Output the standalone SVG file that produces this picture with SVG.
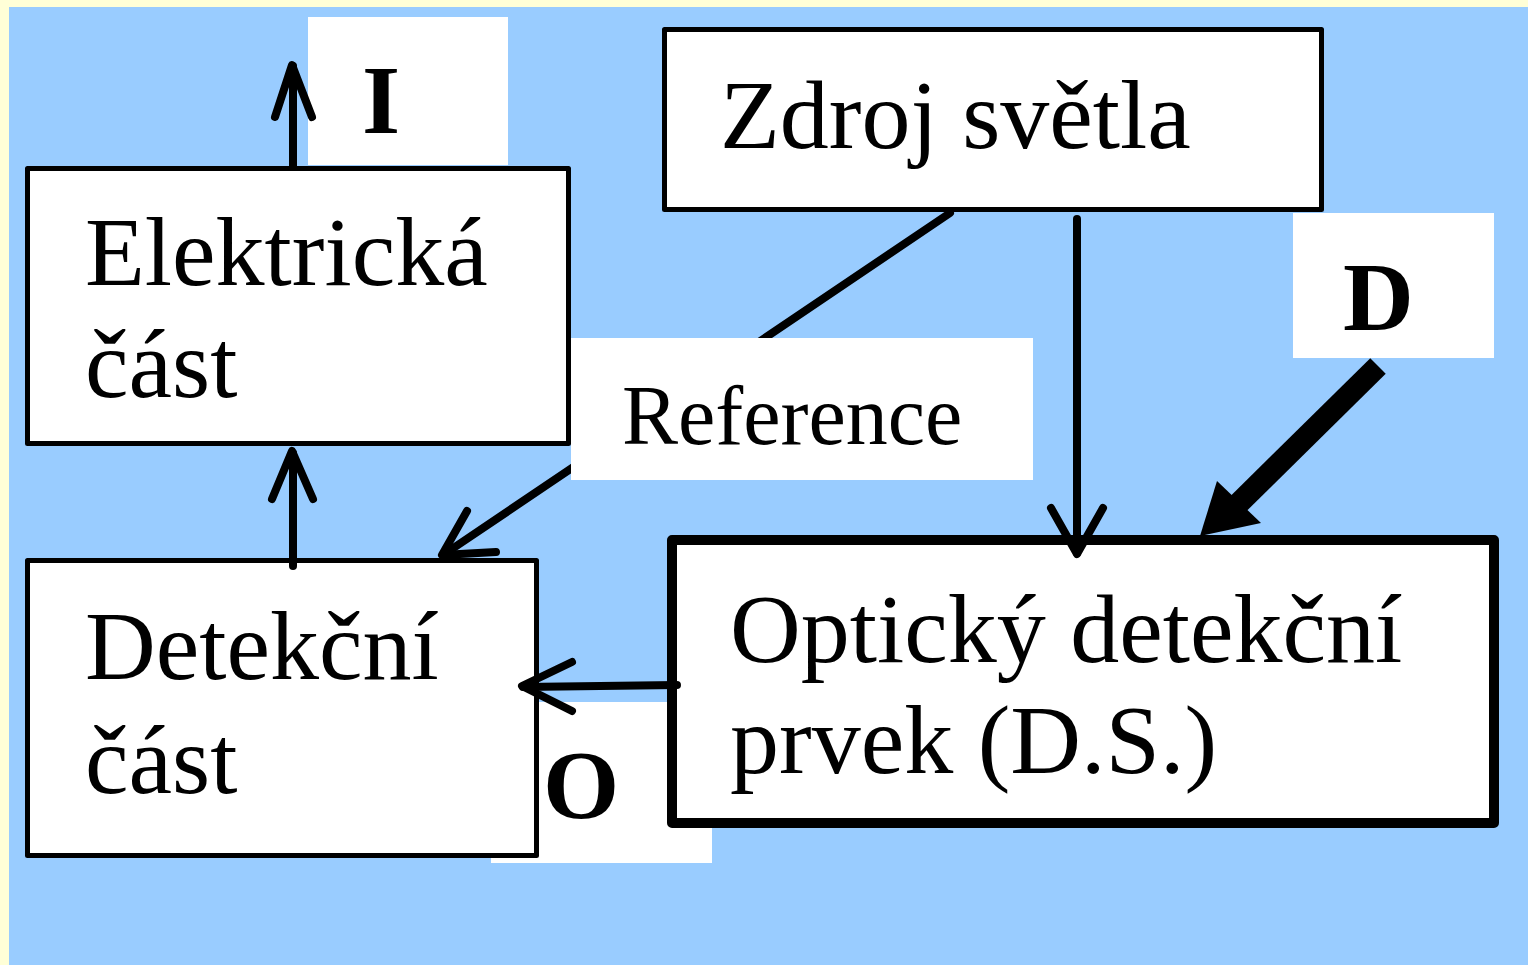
<svg xmlns="http://www.w3.org/2000/svg" width="1528" height="965" viewBox="0 0 1528 965">
  <style>
    .box { fill: #FFFFFF; stroke: #000000; stroke-width: 5; stroke-linejoin: round; }
    .box-thick { fill: #FFFFFF; stroke: #000000; stroke-width: 10; stroke-linejoin: round; }
    .pad { fill: #FFFFFF; }
    .line { fill: none; stroke: #000000; stroke-width: 8; stroke-linecap: round; stroke-linejoin: round; }
    .txt { font-family: "Liberation Serif", "Times New Roman", serif; font-size: 98px; fill: #000000; }
    .ref { font-family: "Liberation Serif", "Times New Roman", serif; font-size: 84px; fill: #000000; }
    .tag { font-family: "Liberation Serif", "Times New Roman", serif; font-size: 98px; font-weight: bold; fill: #000000; }
  </style>

  <!-- page background and panel -->
  <rect x="0" y="0" width="1528" height="965" fill="#FFFFD7"/>
  <rect x="9" y="7" width="1519" height="958" fill="#99CCFF"/>

  <!-- white label pads -->
  <g id="label-I">
    <rect class="pad" x="308" y="17" width="200" height="148"/>
    <text class="tag" x="362" y="133">I</text>
  </g>
  <g id="label-D">
    <rect class="pad" x="1293" y="213" width="201" height="145"/>
    <text class="tag" x="1343" y="330">D</text>
  </g>
  <g id="label-O">
    <rect class="pad" x="491" y="702" width="221" height="161"/>
    <text class="tag" x="543" y="818">O</text>
  </g>

  <!-- nodes -->
  <g id="node-zdroj">
    <rect class="box" x="664.5" y="29.5" width="657" height="180"/>
    <text class="txt" x="720" y="148">Zdroj světla</text>
  </g>
  <g id="node-elektricka">
    <rect class="box" x="27.5" y="168.5" width="541" height="275"/>
    <text class="txt" x="85" y="285">Elektrická</text>
    <text class="txt" x="85" y="397">část</text>
  </g>
  <g id="node-detekcni">
    <rect class="box" x="27.5" y="560.5" width="509" height="295"/>
    <text class="txt" x="85" y="679">Detekční</text>
    <text class="txt" x="85" y="793">část</text>
  </g>
  <g id="node-opticky">
    <rect class="box-thick" x="672" y="540" width="822" height="283"/>
    <text class="txt" x="730" y="662">Optický detekční</text>
    <text class="txt" x="730" y="773">prvek (D.S.)</text>
  </g>

  <!-- connectors -->
  <g id="connectors">
    <!-- Elektrická část -> output I -->
    <path class="line" d="M293,166 L293,66"/>
    <polyline class="line" points="275,117 292,65 312,117"/>
    <!-- Detekční část -> Elektrická část -->
    <path class="line" d="M293,566 L293,453"/>
    <polyline class="line" points="272,499 292,451 313,499"/>
    <!-- Zdroj světla -> Detekční část (reference path) -->
    <path class="line" stroke-width="7" d="M950,213 L443,555"/>
    <polyline class="line" stroke-width="7" points="467,511 442,555 496,552"/>
    <!-- Zdroj světla -> Optický detekční prvek -->
    <path class="line" d="M1077,219 L1077,553"/>
    <polyline class="line" points="1051,508 1077,554 1103,508"/>
    <!-- Optický detekční prvek -> Detekční část -->
    <path class="line" d="M677,685 L523,687"/>
    <polyline class="line" points="572,662 522,686 572,711"/>
    <!-- disturbance D -> Optický detekční prvek -->
    <path d="M1378,366 L1236,506" stroke="#000000" stroke-width="22" fill="none"/>
    <polygon points="1200,536 1217,481 1261,523" fill="#000000"/>
  </g>

  <!-- reference label pad (lies over the reference path) -->
  <g id="label-reference">
    <rect class="pad" x="571" y="338" width="462" height="142"/>
    <text class="ref" x="622" y="444">Reference</text>
  </g>
</svg>
